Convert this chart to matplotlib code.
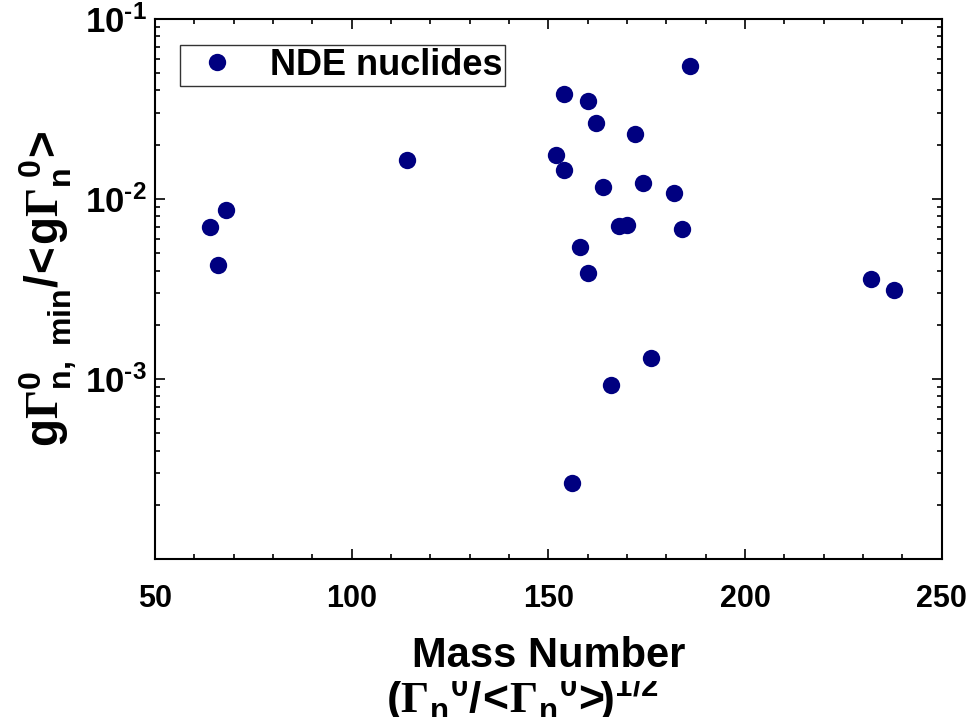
import matplotlib
matplotlib.use("Agg")
import matplotlib.pyplot as plt
from matplotlib.patches import Rectangle
from matplotlib.ticker import MultipleLocator, LogLocator, NullFormatter

plt.rcParams['font.family'] = ['Liberation Sans', 'DejaVu Sans']
plt.rcParams['font.weight'] = 'bold'
plt.rcParams['mathtext.fontset'] = 'custom'
plt.rcParams['mathtext.rm'] = 'Liberation Serif:bold'
plt.rcParams['mathtext.bf'] = 'Liberation Sans:bold'
plt.rcParams['mathtext.it'] = 'Liberation Sans:bold:italic'
plt.rcParams['mathtext.sf'] = 'Liberation Sans:bold'

mass_number = [64, 66, 68, 114, 152, 154, 154, 156, 158, 160, 160, 162,
               164, 166, 168, 170, 172, 174, 176, 182, 184, 186, 232, 238]
gamma_ratio = [0.00702, 0.00430, 0.00869, 0.01645, 0.0176, 0.0383, 0.01455,
               0.000263, 0.00543, 0.0348, 0.00387, 0.0265, 0.01166, 0.00092,
               0.00706, 0.00717, 0.0229, 0.01222, 0.00130, 0.01076, 0.00682,
               0.0550, 0.00357, 0.00313]

x_ticks = [50, 100, 150, 200, 250]
y_ticks = [1e-3, 1e-2, 1e-1]
y_tick_labels = ['$\\mathbf{10^{\u20103}}$', '$\\mathbf{10^{\u20102}}$', '$\\mathbf{10^{\u20101}}$']
legend_label = 'NDE nuclides'

fig = plt.figure(figsize=(9.78, 7.17), dpi=100)
ax = fig.add_axes([155/978, 1-559/717, (941.7-155)/978, (559-18.8)/717])

ax.plot(mass_number, gamma_ratio, linestyle='none', marker='o', markersize=12.5,
        color='#000080', markeredgewidth=0, label=legend_label)

ax.set_yscale('log')
ax.set_xlim(50, 250)
ax.set_ylim(1e-4, 1e-1)
ax.set_xticks(x_ticks)
ax.set_xticklabels([str(v) for v in x_ticks])
ax.xaxis.set_minor_locator(MultipleLocator(10))
ax.set_yticks(y_ticks)
ax.set_yticklabels(y_tick_labels)
ax.yaxis.set_minor_locator(LogLocator(base=10, subs=range(2, 10)))
ax.yaxis.set_minor_formatter(NullFormatter())

for s in ax.spines.values():
    s.set_linewidth(1.5)
ax.tick_params(which='both', direction='in', top=True, right=True, width=1.2)
ax.tick_params(which='major', length=7)
ax.tick_params(which='minor', length=3.5)
ax.tick_params(axis='x', which='major', labelsize=22, pad=18)
ax.tick_params(axis='y', which='major', labelsize=25, pad=6)
for lab in ax.get_xticklabels() + ax.get_yticklabels():
    lab.set_fontweight('bold')

ax.set_xlabel('Mass Number', fontsize=30, fontweight='bold', labelpad=16)
ax.set_ylabel(r'$\mathbf{g}\mathrm{\Gamma}^{\mathbf{0}}_{\mathbf{n,\ min}}\mathbf{/\!<\!g}\mathrm{\Gamma}_{\mathbf{n}}^{\ \mathbf{0}}\mathbf{\!>}$',
              fontsize=33, labelpad=4)

leg = ax.legend(loc='upper left', bbox_to_anchor=(0.0318, 0.952), borderaxespad=0,
                fontsize=26, frameon=True, fancybox=False, borderpad=0.08,
                handlelength=1.9, handletextpad=0.5, numpoints=1)
leg.get_frame().set_edgecolor('black')
leg.get_frame().set_linewidth(1.0)
for t in leg.get_texts():
    t.set_fontweight('bold')

fig.text(522/978, 1-713/717,
         r'$\mathbf{(}\Gamma_{\mathbf{n}}{}^{\mathbf{0}}\mathbf{/}\!\mathbf{<}\!\Gamma_{\mathbf{n}}{}^{\mathbf{0}}\!\mathbf{>}\!\!\mathbf{)}{}^{\mathbf{1/2}}$',
         fontsize=32, ha='center', va='baseline', zorder=-2)
fig.patches.append(Rectangle((360/978, 1-681/717), 320/978, 21/717,
                             transform=fig.transFigure, facecolor='white',
                             edgecolor='none', zorder=-1))

fig.savefig('out.png', dpi=100)
